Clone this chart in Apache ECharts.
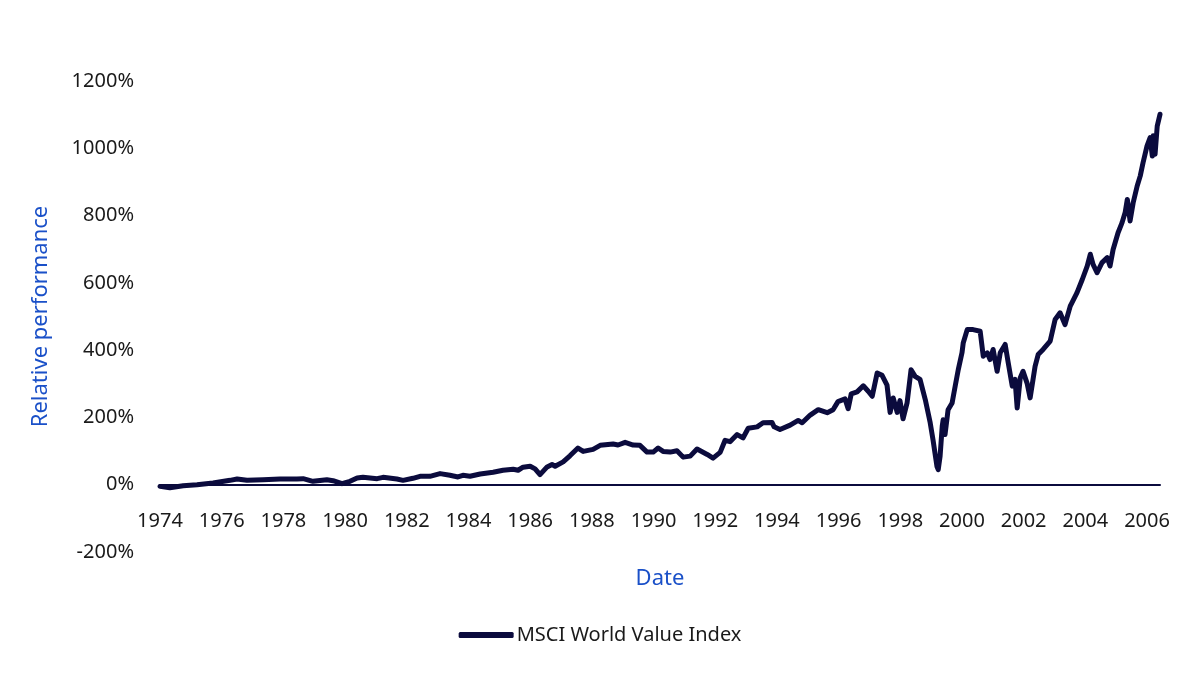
<!DOCTYPE html>
<html>
<head>
<meta charset="utf-8">
<title>MSCI World Value Index</title>
<script src="https://cdn.jsdelivr.net/npm/echarts@6/dist/echarts.min.js"></script>
<style>
  html, body { margin: 0; padding: 0; background: #fff; }
  #main { width: 1200px; height: 676px; }
</style>
</head>
<body>
<div id="main"></div>
<script>
// decimal years
var dates = [
	1974.00, 1974.32, 1974.75, 1975.20, 1975.72, 1976.27, 1976.50, 1976.82, 1977.34, 1977.89,
	1978.44, 1978.64, 1978.96, 1979.41, 1979.61, 1979.90, 1980.16, 1980.39, 1980.58, 1981.04,
	1981.23, 1981.68, 1981.88, 1982.20, 1982.43, 1982.75, 1983.08, 1983.40, 1983.66, 1983.82,
	1984.05, 1984.38, 1984.80, 1985.12, 1985.45, 1985.61, 1985.77, 1986.00, 1986.16, 1986.32,
	1986.55, 1986.71, 1986.81, 1987.07, 1987.29, 1987.55, 1987.72, 1988.04, 1988.27, 1988.69,
	1988.85, 1989.08, 1989.34, 1989.56, 1989.79, 1989.99, 1990.15, 1990.31, 1990.54, 1990.76,
	1990.96, 1991.19, 1991.41, 1991.74, 1991.93, 1992.16, 1992.32, 1992.48, 1992.71, 1992.90,
	1993.07, 1993.36, 1993.55, 1993.84, 1993.91, 1994.10, 1994.43, 1994.69, 1994.82, 1995.08,
	1995.34, 1995.63, 1995.82, 1995.98, 1996.21, 1996.31, 1996.41, 1996.60, 1996.80, 1996.96,
	1997.09, 1997.25, 1997.41, 1997.57, 1997.67, 1997.77, 1997.90, 1997.99, 1998.09, 1998.22,
	1998.35, 1998.48, 1998.64, 1998.81, 1998.97, 1999.06, 1999.19, 1999.23, 1999.29, 1999.36,
	1999.39, 1999.45, 1999.55, 1999.68, 1999.78, 1999.88, 2000.00, 2000.04, 2000.17, 2000.36,
	2000.59, 2000.69, 2000.82, 2000.91, 2001.01, 2001.14, 2001.24, 2001.40, 2001.50, 2001.63,
	2001.72, 2001.79, 2001.89, 2001.98, 2002.11, 2002.21, 2002.37, 2002.47, 2002.63, 2002.86,
	2003.02, 2003.18, 2003.34, 2003.51, 2003.73, 2003.90, 2004.06, 2004.16, 2004.25, 2004.38,
	2004.54, 2004.71, 2004.80, 2004.90, 2005.06, 2005.19, 2005.29, 2005.36, 2005.45, 2005.55,
	2005.68, 2005.78, 2005.87, 2006.00, 2006.10, 2006.17, 2006.20, 2006.26, 2006.33, 2006.42
];
// relative performance in %
var values = [
	-5, -9, -3, 0, 5, 13, 17, 13, 15, 17,
	17, 18, 10, 15, 12, 3, 10, 20, 22, 18,
	22, 17, 13, 19, 25, 25, 33, 28, 23, 28,
	25, 32, 37, 43, 46, 43, 52, 55, 47, 30,
	53, 60, 55, 68, 86, 109, 99, 105, 117, 121,
	118, 126, 118, 117, 97, 97, 109, 99, 97, 101,
	82, 85, 106, 90, 79, 96, 132, 128, 149, 139,
	168, 172, 184, 185, 172, 164, 177, 191, 184, 207,
	223, 214, 223, 247, 255, 226, 270, 276, 294, 278,
	263, 332, 325, 296, 215, 258, 215, 250, 196, 243,
	342, 322, 313, 253, 184, 134, 54, 45, 84, 174,
	193, 149, 223, 243, 293, 342, 392, 421, 461, 461,
	456, 382, 392, 372, 402, 337, 392, 417, 362, 293,
	313, 228, 318, 337, 302, 258, 352, 387, 402, 427,
	491, 511, 476, 531, 571, 610, 650, 685, 655, 630,
	660, 675, 650, 699, 749, 779, 809, 848, 784, 838,
	888, 918, 957, 1007, 1032, 977, 1037, 982, 1066, 1101
];
var seriesName = 'MSCI World Value Index';
var yTicks = [-200, 0, 200, 400, 600, 800, 1000, 1200];

var navy = '#0b0b3d';
var blue = '#1a50c8';
var font = 'Noto Sans';

var init = function(){
	var myChart = echarts.init(document.getElementById('main'));
	var points = [];
	for (var i = 0; i < dates.length; i++) {
		points.push([dates[i], values[i]]);
	}
	var option = {
		animation: false,
		textStyle: { fontFamily: font },
		grid: {
			left: 160,
			right: 40,
			top: 81,
			bottom: 124
		},
		legend: {
			left: 'center',
			top: 620,
			icon: 'roundRect',
			itemWidth: 55,
			itemHeight: 6,
			textStyle: { fontSize: 20, color: '#1a1a1a', fontFamily: font, padding: [0, 0, 0, -2] },
			data: [seriesName]
		},
		xAxis: {
			type: 'value',
			min: 1974,
			max: 2006.42,
			interval: 2,
			name: 'Date',
			nameLocation: 'middle',
			nameGap: 16,
			nameTextStyle: { color: blue, fontSize: 22, fontFamily: font },
			splitLine: { show: false },
			axisTick: { show: false },
			axisLine: { onZero: true, lineStyle: { color: navy, width: 2 } },
			axisLabel: {
				showMaxLabel: false,
				// labels stay at the grid bottom, so pull them up under the 0% line
				margin: -41,
				fontSize: 20,
				color: '#1a1a1a',
				fontFamily: font,
				formatter: function(v){ return String(Math.round(v)); }
			}
		},
		yAxis: {
			type: 'value',
			min: yTicks[0],
			max: yTicks[yTicks.length - 1],
			interval: 200,
			name: 'Relative performance',
			nameLocation: 'middle',
			nameGap: 108,
			nameTextStyle: { color: blue, fontSize: 22, fontFamily: font },
			splitLine: { show: false },
			axisTick: { show: false },
			axisLine: { show: false },
			axisLabel: {
				margin: 26,
				fontSize: 20,
				color: '#1a1a1a',
				fontFamily: font,
				formatter: function(v){ return v + '%'; }
			}
		},
		series: [
			{
				name: seriesName,
				type: 'line',
				data: points,
				showSymbol: false,
				symbol: 'none',
				smooth: false,
				itemStyle: { color: navy },
				lineStyle: { color: navy, width: 5, cap: 'round', join: 'round' },
				z: 3
			}
		]
	};
	myChart.setOption(option);
};

init();
</script>
</body>
</html>
